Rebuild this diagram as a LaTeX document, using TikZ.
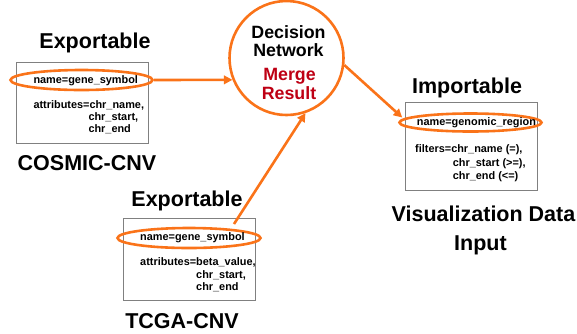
\documentclass[tikz,border=0pt]{standalone}
\usepackage{fontspec}
\setmainfont{Liberation Sans}
\usetikzlibrary{shapes.geometric,arrows.meta,calc}
\definecolor{org}{RGB}{250,115,25}
\definecolor{dred}{RGB}{190,0,20}
\definecolor{boxgray}{RGB}{128,128,128}
\begin{document}
\begin{tikzpicture}[x=1pt,y=-1pt,
 title/.style={font=\fontsize{21.5}{24}\selectfont\bfseries, inner sep=0, anchor=base},
 ctext/.style={font=\fontsize{17.8}{20}\selectfont\bfseries, inner sep=0, anchor=base},
 small/.style={font=\fontsize{10.9}{12}\selectfont\bfseries, inner sep=0, anchor=base west},
 tbox/.style={draw=boxgray, line width=0.7pt, minimum width=132, inner sep=0},
 oval/.style={ellipse, draw=org, line width=2.6pt, inner sep=0},
 arr/.style={draw=org, line width=2.6pt, -{Triangle[length=8.5pt,width=8.5pt]}}]
\useasboundingbox (0,0) rectangle (577,333);

% decision network circle
\node[circle, draw=org, line width=2.6pt, minimum size=114, inner sep=0] (dn) at (286.5,58) {};
\node[ctext] (d1) at (288.5,38) {Decision};
\node[ctext] (d2) at (288.5,56.5) {Network};
\node[ctext, text=dred] (d3) at (289.5,80) {Merge};
\node[ctext, text=dred] (d4) at (289,99) {Result};

% COSMIC box
\node[title] (t1) at (95,48.5) {Exportable};
\node[tbox, minimum height=81] (b1) at (82,102.5) {};
\node[oval, minimum width=142, minimum height=20] (e1) at (81.5,80) {};
\node[small] (n1) at (33.3,83) {name=gene\_symbol};
\node[small] (a1) at (33.3,108) {attributes=chr\_name,};
\node[small] (a1b) at (88.3,120) {chr\_start,};
\node[small] (a1c) at (88.3,132) {chr\_end};
\node[title] (c1) at (87,170.5) {COSMIC-CNV};

% TCGA box
\node[title] (t2) at (187,206) {Exportable};
\node[tbox, minimum height=82] (b2) at (189,259) {};
\node[oval, minimum width=143, minimum height=20] (e2) at (189,238) {};
\node[small] (n2) at (140,240.5) {name=gene\_symbol};
\node[small] (a2) at (140,265.5) {attributes=beta\_value,};
\node[small] (a2b) at (196,278) {chr\_start,};
\node[small] (a2c) at (196,290.5) {chr\_end};
\node[title] (c2) at (182,328.5) {TCGA-CNV};

% Importable box
\node[title] (t3) at (467,93) {Importable};
\node[tbox, minimum height=88] (b3) at (471,146) {};
\node[oval, minimum width=142, minimum height=18] (e3) at (470.5,122.5) {};
\node[small] (n3) at (416.7,125.5) {name=genomic\_region};
\node[small] (f3) at (415,152.5) {filters=chr\_name (=),};
\node[small] (f3b) at (452.7,166) {chr\_start (>=),};
\node[small] (f3c) at (452.7,179.5) {chr\_end (<=)};
\node[title] (c3) at (483.5,221) {Visualization Data};
\node[title] (c3b) at (480.5,250) {Input};

% connectors
\coordinate (s2) at ($(e2.center)+(45,-14)$);
\coordinate (s3) at ($(e3.west)+(4,-5)$);
\draw[arr] (e1.east) -- (dn.202);
\draw[arr] (dn.353) -- (s3);
\draw[arr] (s2) -- (dn.289);
\end{tikzpicture}
\end{document}
